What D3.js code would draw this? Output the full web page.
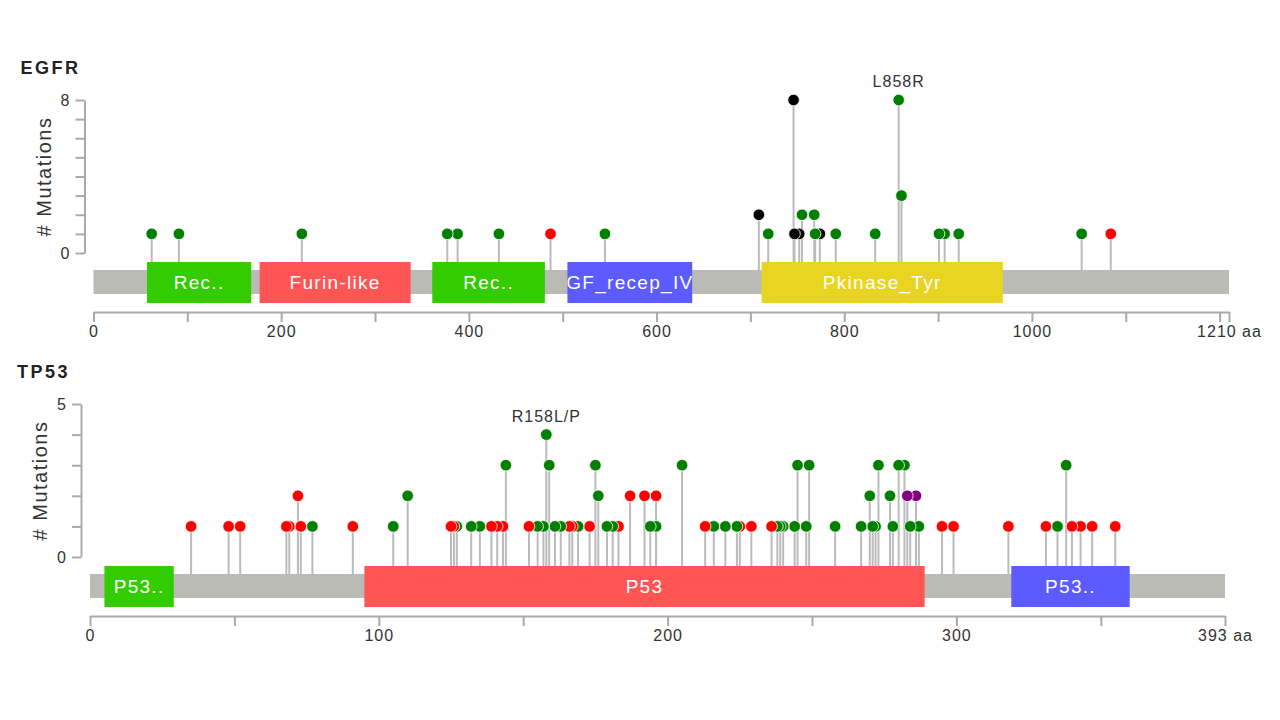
<!DOCTYPE html>
<html>
<head>
<meta charset="utf-8">
<script src="https://cdn.jsdelivr.net/npm/d3@7"></script>
<style>
  body { margin: 0; background: #fff; }
  text { font-family: "Liberation Sans", Arial, sans-serif; }
</style>
</head>
<body>
<div id="chart"></div>
<script>
// ---- EGFR ----
var egfrLength = 1210;
var egfrMaxY = 8;
var egfrDomainStart = [57, 177, 361, 505, 712];
var egfrDomainEnd = [168, 338, 481, 638, 969];
var egfrDomainFamily = ["Recep_L_domain", "Furin-like", "Recep_L_domain", "GF_recep_IV", "Pkinase_Tyr"];
var egfrDomainLabel = ["Rec..", "Furin-like", "Rec..", "GF_recep_IV", "Pkinase_Tyr"];
var egfrPos = [62, 91, 222, 377, 388, 432, 487, 545, 709, 719, 746, 747, 752, 755, 768, 769, 774, 791, 833, 858, 861, 901, 907, 922, 1053, 1084];
var egfrCount = [1, 1, 1, 1, 1, 1, 1, 1, 2, 1, 8, 1, 1, 2, 2, 1, 1, 1, 1, 8, 3, 1, 1, 1, 1, 1];
var egfrType = ["Missense", "Missense", "Missense", "Missense", "Missense", "Missense", "Truncating", "Missense",
  "Inframe", "Missense", "Inframe", "Inframe", "Inframe", "Missense", "Missense", "Missense", "Inframe",
  "Missense", "Missense", "Missense", "Missense", "Missense", "Missense", "Missense", "Missense", "Truncating"];
var egfrHotspot = "L858R";

// ---- TP53 ----
var tp53Length = 393;
var tp53MaxY = 5;
var tp53DomainStart = [5, 95, 319];
var tp53DomainEnd = [29, 289, 360];
var tp53DomainFamily = ["P53_TAD", "P53", "P53_tetramer"];
var tp53DomainLabel = ["P53..", "P53", "P53.."];
var tp53Pos = [35, 48, 52, 68, 69, 72, 73, 77, 91, 105, 110,
  125, 126, 127, 132, 135, 139, 141, 143, 144,
  152, 155, 157, 158, 159, 161, 163, 166, 167, 169, 173, 175, 176, 179, 181, 183, 187, 192, 194, 196, 196,
  205, 213, 216, 220, 224, 225, 229, 236, 238, 239, 240, 244, 245, 248, 249, 258, 267, 270, 271, 272, 273,
  277, 278, 280, 282, 283, 284, 286, 287, 295, 299, 318, 331, 335, 338, 340, 343, 347, 355];
var tp53Count = [1, 1, 1, 1, 1, 2, 1, 1, 1, 1, 2,
  1, 1, 1, 1, 1, 1, 1, 1, 3,
  1, 1, 1, 4, 3, 1, 1, 1, 1, 1, 1, 3, 2, 1, 1, 1, 2, 2, 1, 1, 2,
  3, 1, 1, 1, 1, 1, 1, 1, 1, 1, 1, 1, 3, 1, 3, 1, 1, 2, 1, 1, 3,
  2, 1, 3, 3, 2, 1, 2, 1, 1, 1, 1, 1, 1, 3, 1, 1, 1, 1];
var T = "Truncating", M = "Missense", O = "Other";
var tp53Type = [T, T, T, T, T, T, T, M, T, M, M,
  T, T, M, M, M, T, T, T, M,
  T, M, M, M, M, M, M, T, T, M, T, M, M, M, M, T, T, T, M, M, T,
  M, T, M, M, M, T, T, T, M, M, M, M, M, M, M, M, M, M, M, M, M,
  M, M, M, M, O, M, O, M, T, T, T, T, M, M, T, T, T, T];
var tp53Hotspot = "R158L/P";

var mutColor = d3.scaleOrdinal()
  .domain(["Missense", "Truncating", "Inframe", "Other"])
  .range(["#007f00", "#ff0000", "#000000", "#800080"]);
var domainPalette = ["#33cc00", "#ff5555", "#5b5bff", "#e9d521"];

var svg = d3.select("#chart").append("svg")
  .attr("width", 1280)
  .attr("height", 720);

function drawGene(name, len, maxY, dStart, dEnd, dFam, dLabel, pos, count, type, hotspot, top, x0, x1) {
  var g = svg.append("g");
  var x = d3.scaleLinear().domain([0, len]).range([x0, x1]);
  var y = d3.scaleLinear().domain([0, maxY]).range([top + 153, top]);
  var barTop = top + 170, barH = 24;
  var domTop = top + 162, domH = 41;
  var axisY = top + 212;

  var famColor = d3.scaleOrdinal().domain(Array.from(new Set(dFam))).range(domainPalette);

  var muts = pos.map(function(p, i) { return {pos: p, count: count[i], type: type[i]}; });
  // draw right to left so left dots sit on top
  muts.sort(function(a, b) { return b.pos - a.pos; });

  // title
  g.append("text")
    .attr("x", x0 - 73).attr("y", top - 26)
    .style("font-size", "18px").style("font-weight", "bold")
    .style("letter-spacing", "2.5px").style("fill", "#222")
    .text(name);

  // y axis
  var yAxis = d3.axisLeft(y)
    .tickValues(d3.range(0, maxY + 1))
    .tickSize(9).tickSizeOuter(0).tickPadding(6)
    .tickFormat(function(d) { return (d == 0 || d == maxY) ? d : ""; });
  var ya = g.append("g").attr("transform", "translate(" + (x0 - 9) + ",0)").call(yAxis);
  ya.select(".domain").attr("stroke", "#aaa").attr("stroke-width", 2);
  ya.selectAll(".tick line").attr("stroke", "#aaa").attr("stroke-width", 2);
  ya.selectAll(".tick text").style("font-size", "16px").style("fill", "#333")
    .style("font-family", "Liberation Sans, Arial, sans-serif");

  g.append("text")
    .attr("transform", "translate(" + (x0 - 50) + "," + (y(maxY / 2)) + ") rotate(-90)")
    .attr("text-anchor", "middle").attr("dy", "0.35em")
    .style("font-size", "20px").style("letter-spacing", "1.5px").style("fill", "#333")
    .text("# Mutations");

  // stems
  g.selectAll(".stem").data(muts).enter().append("line")
    .attr("class", "stem")
    .attr("x1", function(d) { return x(d.pos); })
    .attr("x2", function(d) { return x(d.pos); })
    .attr("y1", function(d) { return y(d.count); })
    .attr("y2", barTop)
    .attr("stroke", "#bbbbbb").attr("stroke-width", 2);

  // protein backbone
  g.append("rect")
    .attr("x", x(0)).attr("y", barTop)
    .attr("width", x(len) - x(0)).attr("height", barH)
    .attr("fill", "#babbb5");

  // domains
  var doms = dStart.map(function(s, i) { return {s: s, e: dEnd[i], fam: dFam[i], label: dLabel[i], id: name + "d" + i}; });
  var defs = svg.append("defs");
  doms.forEach(function(d) {
    defs.append("clipPath").attr("id", d.id).append("rect")
      .attr("x", x(d.s)).attr("y", domTop).attr("width", x(d.e) - x(d.s)).attr("height", domH);
  });
  var dg = g.selectAll(".dom").data(doms).enter().append("g").attr("class", "dom");
  dg.append("rect")
    .attr("x", function(d) { return x(d.s); })
    .attr("y", domTop)
    .attr("width", function(d) { return x(d.e) - x(d.s); })
    .attr("height", domH)
    .attr("fill", function(d) { return famColor(d.fam); });
  dg.append("text")
    .attr("clip-path", function(d) { return "url(#" + d.id + ")"; })
    .attr("x", function(d) { return (x(d.s) + x(d.e)) / 2; })
    .attr("y", domTop + domH / 2)
    .attr("dy", "0.36em").attr("text-anchor", "middle")
    .style("font-size", "19px").style("letter-spacing", "1.3px").style("fill", "#fff")
    .text(function(d) { return d.label; });

  // dots
  g.selectAll(".dot").data(muts).enter().append("circle")
    .attr("class", "dot")
    .attr("cx", function(d) { return x(d.pos); })
    .attr("cy", function(d) { return y(d.count); })
    .attr("r", 5.8)
    .attr("fill", function(d) { return mutColor(d.type); })
    .attr("stroke", "#fff").attr("stroke-width", 0.8);

  // hotspot label on the tallest lollipop
  var top1 = muts.filter(function(d) { return d.type == "Missense"; })
    .reduce(function(a, b) { return b.count >= a.count ? b : a; });
  g.append("text")
    .attr("x", x(top1.pos)).attr("y", y(top1.count) - 13)
    .attr("text-anchor", "middle")
    .style("font-size", "16px").style("letter-spacing", "1px").style("fill", "#333")
    .text(hotspot);

  // x axis
  var step = len > 600 ? 100 : 50;
  var ticks = d3.range(0, len, step).concat([len]);
  var xAxis = d3.axisBottom(x)
    .tickValues(ticks)
    .tickSize(10).tickSizeOuter(0).tickPadding(4)
    .tickFormat(function(d) {
      if (d == len) return d + " aa";
      if (len - d < step) return "";
      return (d % (step * 2) == 0) ? d : "";
    });
  var xa = g.append("g").attr("transform", "translate(0," + axisY + ")").call(xAxis);
  xa.select(".domain").attr("stroke", "#aaa").attr("stroke-width", 2);
  xa.selectAll(".tick line").attr("stroke", "#aaa").attr("stroke-width", 2);
  xa.selectAll(".tick text").style("font-size", "16px").style("fill", "#333")
    .style("letter-spacing", "1px")
    .style("font-family", "Liberation Sans, Arial, sans-serif");
}

drawGene("EGFR", egfrLength, egfrMaxY, egfrDomainStart, egfrDomainEnd, egfrDomainFamily, egfrDomainLabel,
  egfrPos, egfrCount, egfrType, egfrHotspot, 100, 93.5, 1229);
drawGene("TP53", tp53Length, tp53MaxY, tp53DomainStart, tp53DomainEnd, tp53DomainFamily, tp53DomainLabel,
  tp53Pos, tp53Count, tp53Type, tp53Hotspot, 404, 90, 1225);
</script>
</body>
</html>
